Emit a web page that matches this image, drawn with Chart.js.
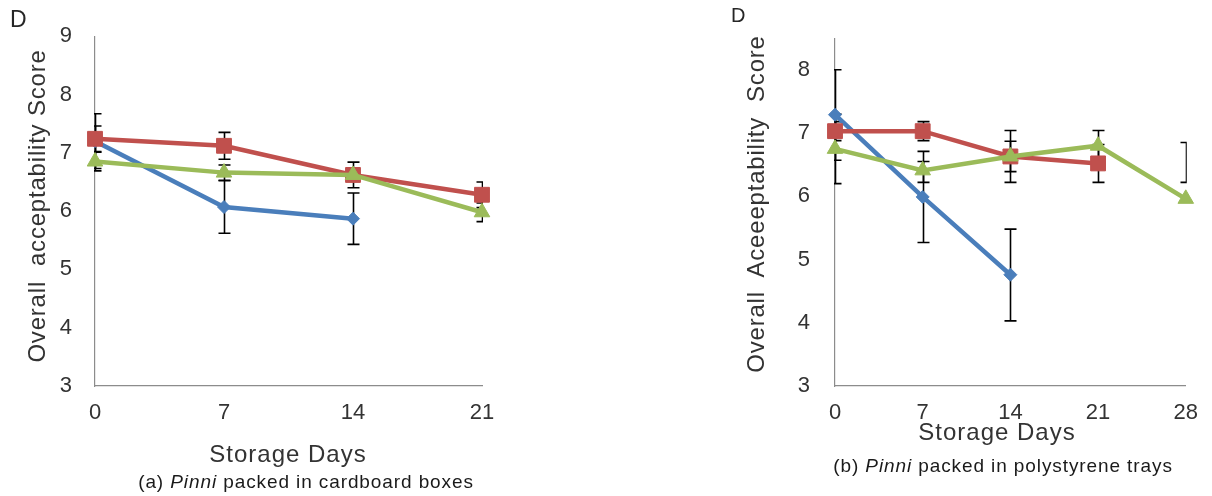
<!DOCTYPE html>
<html>
<head>
<meta charset="utf-8">
<script src="https://cdn.jsdelivr.net/npm/chart.js@4.4.1/dist/chart.umd.min.js"></script>
<style>
  html, body { margin: 0; padding: 0; background: #fff; }
  #wrap { position: relative; width: 1212px; height: 496px; overflow: hidden;
          font-family: "Liberation Sans", Arial, sans-serif; color: #333; }
  #wrap canvas { position: absolute; top: 0; }
  .lbl { position: absolute; white-space: pre; line-height: 1; }
  .ytitle { font-size: 24px; letter-spacing: 0.8px; transform: translate(-50%, -50%) rotate(-90deg); }
  .xtitle { font-size: 24px; letter-spacing: 1px; transform: translateX(-50%); }
  .cap { font-size: 19px; letter-spacing: 0.9px; color: #1a1a1a; transform: translateX(-50%); }
  .panel { font-size: 23px; color: #262626; }
</style>
</head>
<body>
<div id="wrap">
  <canvas id="card" width="606" height="496" style="left:0"></canvas>
  <canvas id="tray" width="606" height="496" style="left:606px"></canvas>

  <div class="lbl panel" style="left:10px;top:8px;">D</div>
  <div class="lbl panel" style="left:731px;top:5px;font-size:20px;">D</div>

  <div class="lbl ytitle" style="left:37px;top:206px;">Overall  acceptability Score</div>
  <div class="lbl ytitle" style="left:756px;top:204px;">Overall  Aceeeptability  Score</div>

  <div class="lbl xtitle" style="left:288px;top:442px;">Storage Days</div>
  <div class="lbl xtitle" style="left:997px;top:420px;">Storage Days</div>

  <div class="lbl cap" style="left:306px;top:472px;">(a) <i>Pinni</i> packed in cardboard boxes</div>
  <div class="lbl cap" style="left:1003px;top:456px;">(b) <i>Pinni</i> packed in polystyrene trays</div>
</div>

<script>
// (a) cardboard boxes
const cardDays = [0, 7, 14, 21];
const cardYTicks = [3, 4, 5, 6, 7, 8, 9];
const cardBlue  = [7.20, 6.07, 5.87, null];
const cardRed   = [7.24, 7.12, 6.62, 6.28];
const cardGreen = [6.85, 6.66, 6.62, 5.98];
// error bar ranges [low, high]
const cardBlueRange  = [[6.73, 7.67], [5.62, 6.52], [5.43, 6.31], null];
const cardRedRange   = [[7.02, 7.46], [6.89, 7.35], [6.40, 6.84], [6.06, 6.50]];
const cardGreenRange = [[6.69, 7.01], [6.53, 6.79], [6.52, 6.72], [5.82, 6.14]];

// (b) polystyrene trays
const trayDays = [0, 7, 14, 21, 28];
const trayYTicks = [3, 4, 5, 6, 7, 8];
const trayBlue  = [7.29, 5.99, 4.76, null, null];
const trayRed   = [7.03, 7.03, 6.63, 6.52, null];
const trayGreen = [6.75, 6.41, 6.63, 6.80, 5.96];
const trayBlueRange  = [[6.57, 8.00], [5.27, 6.71], [4.03, 5.48], null, null];
const trayRedRange   = [[6.88, 7.18], [6.88, 7.18], [6.22, 7.04], [6.22, 6.82], [6.22, 6.85]];
const trayGreenRange = [[6.20, 7.30], [6.22, 6.55], [6.39, 6.87], [6.56, 7.04], null];

const BLUE = '#4A7EBB', RED = '#C0504D', GREEN = '#9BBB59';
const TEXT = '#333333';

// Vertical error bars with caps, clipped to the plot area and drawn beneath the series
const errorBarPlugin = {
  id: 'errorBars',
  beforeDatasetsDraw(chart) {
    const { ctx, chartArea: a, scales: { x, y } } = chart;
    ctx.save();
    ctx.beginPath();
    ctx.rect(a.left - 1, a.top - 1, a.right - a.left + 2, a.bottom - a.top + 2);
    ctx.clip();
    ctx.strokeStyle = '#000';
    ctx.lineWidth = 1.6;
    const cap = 6;
    chart.data.datasets.forEach(ds => {
      (ds.errorBars || []).forEach((r, i) => {
        if (!r) return;
        const px = Math.round(x.getPixelForValue(ds.data[i].x)) + 0.5;
        const yl = y.getPixelForValue(r[0]);
        const yh = y.getPixelForValue(r[1]);
        ctx.beginPath();
        ctx.moveTo(px, yl); ctx.lineTo(px, yh);
        ctx.moveTo(px - cap, yl); ctx.lineTo(px + cap, yl);
        ctx.moveTo(px - cap, yh); ctx.lineTo(px + cap, yh);
        ctx.stroke();
      });
    });
    ctx.restore();
  }
};

function series(days, vals, ranges, color, style, radius, order) {
  return {
    data: days.map((d, i) => ({ x: d, y: vals[i] })),
    errorBars: ranges,
    borderColor: color,
    backgroundColor: color,
    borderWidth: 4.5,
    pointStyle: style,
    pointRadius: radius,
    pointHoverRadius: radius,
    pointBackgroundColor: color,
    pointBorderColor: color,
    pointBorderWidth: 1,
    tension: 0,
    clip: false,
    order: order
  };
}

function makeChart(id, cfg) {
  const tickFont = { family: '"Liberation Sans", Arial, sans-serif', size: 22 };
  return new Chart(document.getElementById(id), {
    type: 'line',
    data: {
      datasets: [
        series(cfg.days, cfg.blue, cfg.blueRange, BLUE, 'rectRot', 6.5, 3),
        series(cfg.days, cfg.red, cfg.redRange, RED, 'rect', 10.5, 2),
        series(cfg.days, cfg.green, cfg.greenRange, GREEN, 'triangle', 9, 1)
      ]
    },
    options: {
      responsive: false,
      animation: false,
      events: [],
      layout: { padding: cfg.padding },
      plugins: { legend: { display: false }, tooltip: { enabled: false } },
      scales: {
        x: {
          type: 'linear',
          min: cfg.days[0],
          max: cfg.days[cfg.days.length - 1],
          grid: { display: false, drawTicks: false },
          border: { display: true, color: '#8c8c8c', width: 1.2 },
          ticks: { padding: 14, color: TEXT, font: tickFont, maxRotation: 0 },
          afterBuildTicks: s => { s.ticks = cfg.days.map(v => ({ value: v })); },
          afterFit: s => { s.height = 110; }
        },
        y: {
          min: cfg.yMin,
          max: cfg.yMax,
          grid: { display: false, drawTicks: false },
          border: { display: true, color: '#8c8c8c', width: 1.2 },
          ticks: { padding: cfg.yPad, color: TEXT, font: tickFont },
          afterBuildTicks: s => { s.ticks = cfg.yTicks.map(v => ({ value: v })); },
          afterFit: s => { s.width = cfg.yWidth; }
        }
      }
    },
    plugins: [errorBarPlugin]
  });
}

makeChart('card', {
  days: cardDays, yTicks: cardYTicks, yMin: 3, yMax: 9,
  blue: cardBlue, red: cardRed, green: cardGreen,
  blueRange: cardBlueRange, redRange: cardRedRange, greenRange: cardGreenRange,
  padding: { left: 0, right: 124, top: 18, bottom: 0 },
  yWidth: 95, yPad: 23
});

makeChart('tray', {
  days: trayDays, yTicks: trayYTicks, yMin: 3, yMax: 8.5,
  blue: trayBlue, red: trayRed, green: trayGreen,
  blueRange: trayBlueRange, redRange: trayRedRange, greenRange: trayGreenRange,
  padding: { left: 0, right: 20, top: 12, bottom: 0 },
  yWidth: 229, yPad: 25
});
</script>
</body>
</html>
